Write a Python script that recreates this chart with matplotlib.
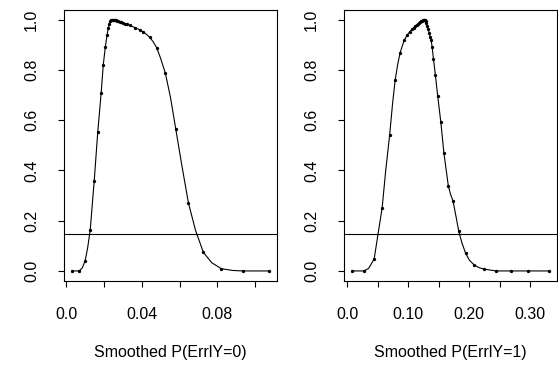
import numpy as np
import matplotlib
matplotlib.use('Agg')
import matplotlib.pyplot as plt

plt.rcParams['font.family'] = ['Liberation Sans', 'DejaVu Sans']

# left panel: smoothed P(Err|Y=0)
pts0_x = [0.0030, 0.0069, 0.0100, 0.0127, 0.0148, 0.0167, 0.0185, 0.0196, 0.0207,
          0.0216, 0.0223, 0.0229, 0.0234, 0.0239, 0.0244, 0.0249, 0.0254, 0.0259,
          0.0264, 0.0270, 0.0276, 0.0283, 0.0291, 0.0300, 0.0310, 0.0322, 0.0336,
          0.0363, 0.0388, 0.0409, 0.0441, 0.0479, 0.0525, 0.0580, 0.0647, 0.0726,
          0.0821, 0.0937, 0.1074]
pts0_y = [0.0, 0.0, 0.040, 0.163, 0.357, 0.553, 0.709, 0.819, 0.891,
          0.938, 0.966, 0.983, 0.993, 0.999, 1.0, 1.0, 0.999, 0.998,
          0.997, 0.995, 0.993, 0.991, 0.989, 0.987, 0.984, 0.981, 0.977,
          0.968, 0.960, 0.950, 0.930, 0.888, 0.786, 0.564, 0.270, 0.074,
          0.009, 0.0, 0.0]
# extra points read along the drawn curve between the markers
curve0_x = [0.0085, 0.0113, 0.0425, 0.0460, 0.0500, 0.0552, 0.0612, 0.0685, 0.0770, 0.0880]
curve0_y = [0.012, 0.090, 0.941, 0.912, 0.845, 0.690, 0.420, 0.160, 0.033, 0.002]

# right panel: smoothed P(Err|Y=1)
pts1_x = [0.0076, 0.0272, 0.0441, 0.0572, 0.0695, 0.0784, 0.0866, 0.0931, 0.0986,
          0.1025, 0.1060, 0.1090, 0.1115, 0.1140, 0.1160, 0.1180, 0.1198, 0.1215,
          0.1230, 0.1243, 0.1255, 0.1263, 0.1272, 0.1282, 0.1295, 0.1310, 0.1325,
          0.1340, 0.1360, 0.1375, 0.1390, 0.1412, 0.1444, 0.1482, 0.1533, 0.1583,
          0.1655, 0.1733, 0.1827, 0.1939, 0.2077, 0.2244, 0.2440, 0.2677, 0.2960,
          0.3306]
pts1_y = [0.0, 0.0, 0.048, 0.252, 0.542, 0.758, 0.868, 0.917, 0.940,
          0.952, 0.961, 0.968, 0.974, 0.979, 0.983, 0.987, 0.990, 0.993,
          0.996, 0.998, 1.0, 1.0, 0.998, 0.993, 0.985, 0.975, 0.962,
          0.947, 0.930, 0.917, 0.891, 0.843, 0.778, 0.695, 0.591, 0.469,
          0.339, 0.278, 0.157, 0.070, 0.024, 0.007, 0.0, 0.0, 0.0,
          0.0]
curve1_x = [0.0350, 0.0500, 0.0630, 0.0742, 0.0828, 0.1690, 0.1780, 0.1880, 0.2000, 0.2160]
curve1_y = [0.010, 0.140, 0.400, 0.665, 0.824, 0.306, 0.218, 0.110, 0.043, 0.013]

cutoff = 0.146

panels = [
    (pts0_x, pts0_y, curve0_x, curve0_y,
     [0.0, 0.02, 0.04, 0.06, 0.08, 0.10], ['0.0', '', '0.04', '', '0.08', ''],
     'Smoothed P(ErrlY=0)'),
    (pts1_x, pts1_y, curve1_x, curve1_y,
     [0.0, 0.05, 0.10, 0.15, 0.20, 0.25, 0.30], ['0.0', '', '0.10', '', '0.20', '', '0.30'],
     'Smoothed P(ErrlY=1)'),
]

fig = plt.figure(figsize=(5.58, 3.66), dpi=100)
lefts = [64 / 558, 344 / 558]
for left, (px, py, cx, cy, xt, xtl, xlab) in zip(lefts, panels):
    ax = fig.add_axes([left, 85 / 366, 213 / 558, 271.5 / 366])
    lx = np.array(px + cx)
    ly = np.array(py + cy)
    order = np.argsort(lx)
    ax.plot(lx[order], ly[order], color='black', lw=0.8)
    ax.plot(px, py, 'o', color='black', ms=2.4, mew=0)
    ax.axhline(cutoff, color='black', lw=0.8)

    span = max(px) - min(px)
    ax.set_xlim(min(px) - 0.04 * span, max(px) + 0.04 * span)
    ax.set_ylim(-0.04, 1.04)
    ax.set_xticks(xt)
    ax.set_xticklabels(xtl)
    ax.set_yticks([0.0, 0.2, 0.4, 0.6, 0.8, 1.0])
    ax.set_yticklabels(['0.0', '0.2', '0.4', '0.6', '0.8', '1.0'], rotation=90, va='center')
    ax.tick_params(direction='out', length=4, width=0.8, labelsize=11.5, pad=15)
    ax.tick_params(axis='y', pad=14)
    for s in ax.spines.values():
        s.set_linewidth(0.8)
    ax.set_xlabel(xlab, fontsize=11.5, labelpad=16)

fig.savefig('out.png', dpi=100)
